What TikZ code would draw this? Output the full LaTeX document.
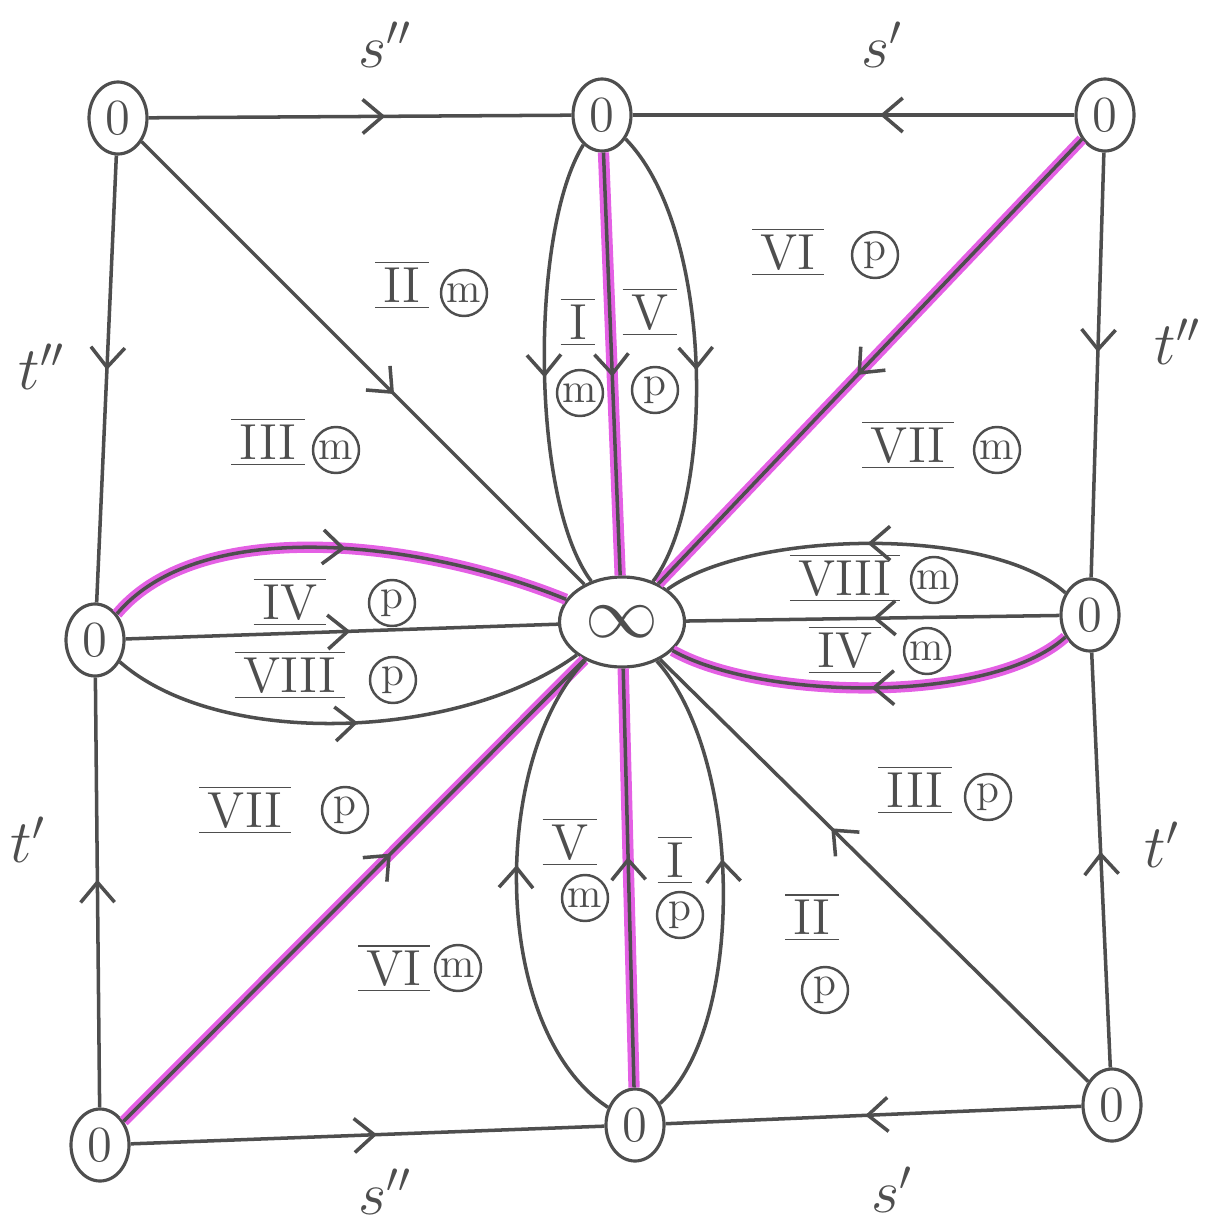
\documentclass[tikz,border=0pt]{standalone}
\usetikzlibrary{shapes.geometric,decorations.markings,arrows.meta}
\definecolor{pen}{RGB}{78,78,78}
\definecolor{hlpink}{RGB}{228,96,228}
\newcommand{\rn}[1]{$\overline{\underline{\,\mathrm{#1}\,}}$}
\tikzset{
	zero/.style={ellipse, draw=pen, line width=0.9pt, minimum width=0.58cm, minimum height=0.72cm, inner sep=0pt, font=\Large},
	inftybox/.style={ellipse, draw=pen, line width=0.9pt, minimum width=1.25cm, minimum height=0.9cm, inner sep=0pt, font=\huge},
	circ/.style={circle, draw=pen, line width=0.7pt, minimum size=0.46cm, inner sep=0pt, font=\large},
	numlab/.style={font=\Large, text=pen, inner sep=1pt},
	edgelab/.style={font=\LARGE, text=pen},
	midarr/.style={postaction={decorate}, decoration={markings, mark=at position #1 with {\arrow{Straight Barb[length=2mm,width=3.4mm]}}}},
	midarr/.default=0.5,
	hl/.style={preaction={draw=hlpink, line width=3.2pt}}
}
\begin{document}
\begin{tikzpicture}[line width=1pt, draw=pen, color=pen]
	\useasboundingbox (0,0) rectangle (12.12,-12.24);
	% the nine vertices
	\node[zero] (ztl) at (1.18,-1.18) {$0$};
	\node[zero] (ztm) at (6.02,-1.15) {$0$};
	\node[zero] (ztr) at (11.05,-1.15) {$0$};
	\node[zero] (zml) at (0.95,-6.40) {$0$};
	\node[inftybox] (inf) at (6.22,-6.22) {$\infty$};
	\node[zero] (zmr) at (10.90,-6.15) {$0$};
	\node[zero] (zbl) at (1.00,-11.45) {$0$};
	\node[zero] (zbm) at (6.35,-11.25) {$0$};
	\node[zero] (zbr) at (11.12,-11.05) {$0$};
	% outer square
	\draw[midarr=0.56] (ztl) -- (ztm);
	\draw[midarr=0.44] (ztr) -- (ztm);
	\draw[midarr=0.52] (zbl) -- (zbm);
	\draw[midarr=0.52] (zbr) -- (zbm);
	\draw[midarr=0.48] (ztl) -- (zml);
	\draw[midarr=0.53] (zbl) -- (zml);
	\draw[midarr=0.47] (ztr) -- (zmr);
	\draw[midarr=0.52] (zbr) -- (zmr);
	% diagonals
	\draw[midarr=0.57] (ztl) -- (inf);
	\draw[hl, midarr=0.53] (ztr) -- (inf);
	\draw[hl, midarr=0.58] (zbl) -- (inf);
	\draw[midarr=0.6] (zbr) -- (inf);
	% top petal
	\draw[midarr=0.53] (ztm) .. controls (5.30,-2.3) and (5.30,-5.0) .. (inf);
	\draw[hl, midarr=0.53] (ztm) -- (inf);
	\draw[midarr=0.53] (ztm) .. controls (7.15,-2.3) and (7.15,-5.0) .. (inf);
	% bottom petal
	\draw[midarr=0.55] (zbm) .. controls (4.9,-10.3) and (4.9,-7.6) .. (inf);
	\draw[hl, midarr=0.55] (zbm) -- (inf);
	\draw[midarr=0.55] (zbm) .. controls (7.45,-10.3) and (7.45,-7.6) .. (inf);
	% left petal
	\draw[hl, midarr=0.52] (zml) .. controls (2.0,-5.15) and (4.2,-5.4) .. (inf);
	\draw[midarr=0.52] (zml) -- (inf);
	\draw[midarr=0.52] (zml) .. controls (2.2,-7.5) and (4.6,-7.4) .. (inf);
	% right petal
	\draw[midarr=0.5] (zmr) .. controls (9.9,-5.25) and (7.5,-5.3) .. (inf);
	\draw[midarr=0.5] (zmr) -- (inf);
	\draw[hl, midarr=0.5] (zmr) .. controls (9.9,-7.05) and (7.6,-7.0) .. (inf);
	% edge labels
	\node[edgelab] (s2top) at (3.85,-0.45) {$s''$};
	\node[edgelab] (s1top) at (8.82,-0.45) {$s'$};
	\node[edgelab] (s2bot) at (3.85,-11.92) {$s''$};
	\node[edgelab] (s1bot) at (8.92,-11.90) {$s'$};
	\node[edgelab] (t2left) at (0.42,-3.67) {$t''$};
	\node[edgelab] (t2right) at (11.78,-3.42) {$t''$};
	\node[edgelab] (t1left) at (0.28,-8.40) {$t'$};
	\node[edgelab] (t1right) at (11.62,-8.45) {$t'$};
	% region labels
	\foreach \rx/\ry/\r/\cx/\cy/\c/\n in {
		4.02/-2.85/II/4.64/-2.93/m/a, 5.78/-3.22/I/5.80/-3.93/m/b,
		6.50/-3.12/V/6.55/-3.90/p/c, 7.88/-2.52/VI/8.75/-2.55/p/d,
		2.68/-4.42/III/3.36/-4.50/m/e, 9.08/-4.45/VII/9.97/-4.50/m/f,
		2.90/-6.02/IV/3.92/-6.03/p/g, 2.90/-6.75/VIII/3.93/-6.80/p/h,
		8.45/-5.78/VIII/9.34/-5.80/m/i, 8.45/-6.50/IV/9.27/-6.51/m/j,
		2.45/-8.10/VII/3.45/-8.10/p/k, 9.15/-7.90/III/9.88/-7.97/p/l,
		5.70/-8.42/V/5.85/-8.98/m/n, 6.75/-8.60/I/6.80/-9.15/p/o,
		8.12/-9.17/II/8.25/-9.90/p/q, 3.94/-9.68/VI/4.58/-9.68/m/r}{
		\node[numlab] (num\n) at (\rx,\ry) {\rn{\r}};
		\node[circ] (mark\n) at (\cx,\cy) {\c};
	}
\end{tikzpicture}
\end{document}
